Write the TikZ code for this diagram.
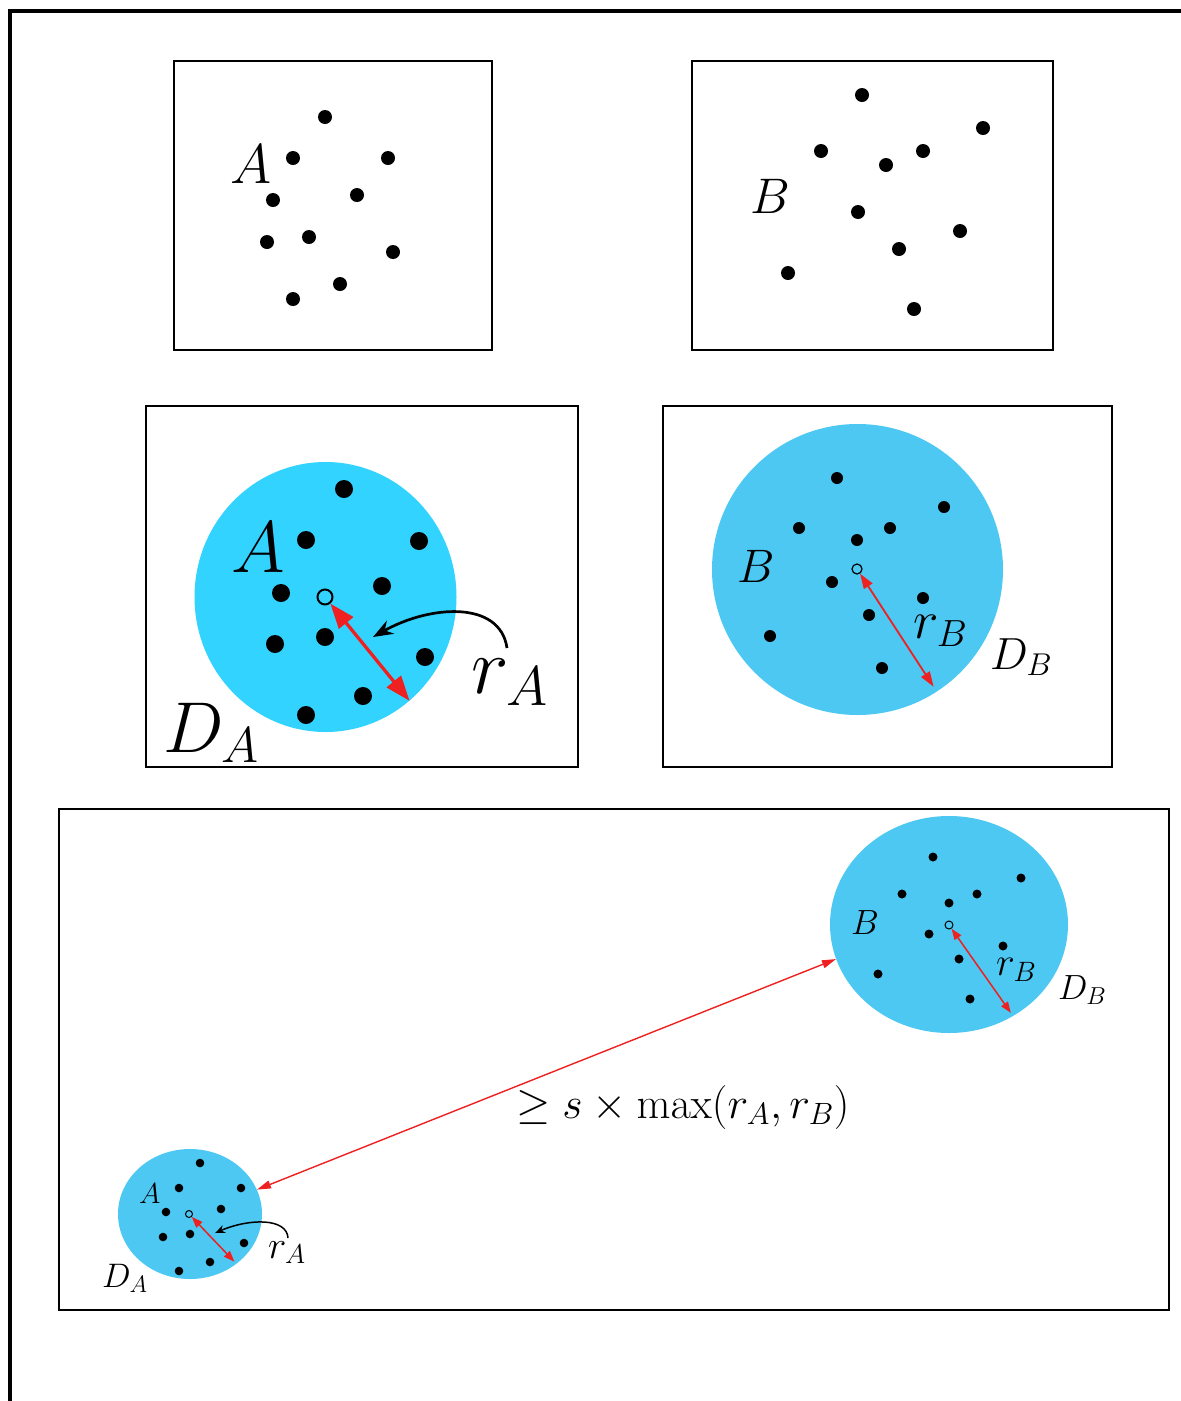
\RequirePackage{fix-cm}
\documentclass[tikz,border=0pt]{standalone}
\usepackage{amsmath}
\usepackage{tikz}
\usetikzlibrary{shapes.geometric, arrows.meta}
\definecolor{diskCyan}{HTML}{33D3FF}
\definecolor{diskSky}{HTML}{4DC8F2}
\definecolor{radRed}{HTML}{EE2020}
\newcommand{\fsz}[1]{\fontsize{#1}{#1}\selectfont}
\tikzset{
    panel_box/.style={
        rectangle, draw=black, line width=1.6pt, inner sep=0pt
    },
    disk/.style={
        ellipse, draw=none, inner sep=0pt
    },
    center_mark/.style={
        circle, draw=black, fill=none, inner sep=0pt
    },
    rad_arrow_big/.style={
        {Triangle[length=25pt,width=18pt]}-{Triangle[length=25pt,width=18pt]},
        draw=radRed, line width=3.3pt
    },
    rad_arrow_mid/.style={
        {Triangle[length=15pt,width=10pt]}-{Triangle[length=15pt,width=10pt]},
        draw=radRed, line width=1.8pt
    },
    rad_arrow_small/.style={
        {Triangle[length=11pt,width=8pt]}-{Triangle[length=11pt,width=8pt]},
        draw=radRed, line width=1.5pt
    },
    gap_arrow/.style={
        {Triangle[length=14pt,width=8pt]}-{Triangle[length=14pt,width=8pt]},
        draw=radRed, line width=1.4pt
    },
    hint_arrow/.style={
        draw=black, line width=#1
    },
    math_lbl/.style={
        anchor=base west, inner sep=0pt, outer sep=0pt
    }
}

\begin{document}
\begin{tikzpicture}[x=1pt, y=-1pt]
    \useasboundingbox (0,0) rectangle (1181,1401);

    % Outer frame (top and left edges)
    \draw[line width=4pt] (9.5,1401) -- (9.5,11) -- (1181,11);

    % Panel 1: point set A
    \node[panel_box, minimum width=318, minimum height=289] (panel_a) at (333,205.5) {};
    \foreach \px/\py in {325/117, 293/158, 388/158, 357/195, 273/200, 267/242, 309/237, 393/252, 340/284, 293/299}
        \fill (\px,\py) circle[radius=7];
    \node[math_lbl, font=\fsz{56}] (lbl_a) at (230,183) {$A$};

    % Panel 2: point set B
    \node[panel_box, minimum width=361, minimum height=289] (panel_b) at (872.5,205.5) {};
    \foreach \px/\py in {862/95, 983/128, 821/151, 923/151, 886/165, 858/212, 960/231, 899/249, 788/273, 914/309}
        \fill (\px,\py) circle[radius=7];
    \node[math_lbl, font=\fsz{50}] (lbl_b) at (750,213) {$B$};

    % Panel 3: enclosing disk D_A
    \node[panel_box, minimum width=432, minimum height=361] (panel_da) at (362,586.5) {};
    \node[disk, fill=diskCyan, minimum width=262, minimum height=270] (disk_a) at (325.5,597) {};
    \foreach \px/\py in {344/489, 306/540, 419/541, 382/586, 281/593, 275/644, 325/637, 425/657, 363/696, 306/715}
        \fill (\px,\py) circle[radius=9];
    \node[center_mark, minimum size=15, line width=2pt] (ctr_a) at (325,597) {};
    \draw[rad_arrow_big] (ctr_a) -- (disk_a.-51);
    \node[math_lbl, font=\fsz{73}] (lbl_da_a) at (231,572) {$A$};
    \node[math_lbl, font=\fsz{80}] (lbl_ra) at (471,693) {$r_A$};
    \node[math_lbl, font=\fsz{72}] (lbl_da) at (163,752) {$D_A$};
    \coordinate (hint_a_start) at (507,648);
    \coordinate (hint_a_end) at (373,637);
    \draw[hint_arrow=2.7pt, -{Stealth[length=20pt,width=15pt]}] (hint_a_start) .. controls (500,600) and (430,605) .. (hint_a_end);

    % Panel 4: enclosing disk D_B
    \node[panel_box, minimum width=449, minimum height=361] (panel_db) at (887.5,586.5) {};
    \node[disk, fill=diskSky, minimum width=291, minimum height=291] (disk_b) at (857.5,569.5) {};
    \foreach \px/\py in {837/478, 944/507, 799/528, 890/528, 857/540, 832/582, 923/598, 869/615, 770/636, 882/668}
        \fill (\px,\py) circle[radius=6];
    \node[center_mark, minimum size=10, line width=1.2pt] (ctr_b) at (857,569) {};
    \draw[rad_arrow_mid, shorten >=6pt] (ctr_b) -- (disk_b.-57);
    \node[math_lbl, font=\fsz{47}] (lbl_db_b) at (737,582) {$B$};
    \node[math_lbl, font=\fsz{54}] (lbl_rb) at (913,638) {$r_B$};
    \node[math_lbl, font=\fsz{45}] (lbl_db) at (990,669) {$D_B$};

    % Panel 5: well-separated pair
    \node[panel_box, minimum width=1110, minimum height=501] (panel_sep) at (614,1059.5) {};

    % large disk around B
    \node[disk, fill=diskSky, minimum width=238, minimum height=217] (disk_lb) at (949,924.5) {};
    \foreach \px/\py in {933/857, 1021/878, 902/894, 977/894, 949/903, 929/934, 1003/946, 959/959, 878/974, 970/999}
        \fill (\px,\py) circle[radius=4.5];
    \node[center_mark, minimum size=8, line width=1pt] (ctr_lb) at (949,925) {};
    \draw[rad_arrow_small, shorten >=4pt] (ctr_lb) -- (disk_lb.-55);
    \node[math_lbl, font=\fsz{35}] (lbl_lb_b) at (851,934) {$B$};
    \node[math_lbl, font=\fsz{40}] (lbl_lrb) at (996,975) {$r_B$};
    \node[math_lbl, font=\fsz{35}] (lbl_ldb) at (1058,999) {$D_B$};

    % small disk around A
    \node[disk, fill=diskSky, minimum width=144, minimum height=130] (disk_sa) at (190,1214) {};
    \foreach \px/\py in {200/1163, 179/1188, 241/1188, 166/1212, 221/1209, 163/1237, 190/1234, 244/1243, 210/1262, 179/1271}
        \fill (\px,\py) circle[radius=4.3];
    \node[center_mark, minimum size=7, line width=1pt] (ctr_sa) at (189,1214) {};
    \draw[rad_arrow_small, shorten >=3pt] (ctr_sa) -- (disk_sa.-47.5);
    \node[math_lbl, font=\fsz{29}] (lbl_sa_a) at (139,1203) {$A$};
    \node[math_lbl, font=\fsz{39}] (lbl_sra) at (268,1258) {$r_A$};
    \node[math_lbl, font=\fsz{34}] (lbl_sda) at (102,1287) {$D_A$};
    \coordinate (hint_sa_start) at (288,1238);
    \coordinate (hint_sa_end) at (215,1233);
    \draw[hint_arrow=1.5pt, -{Stealth[length=10pt,width=8pt]}] (hint_sa_start) .. controls (287,1218) and (250,1218) .. (hint_sa_end);

    % separation between the two disks
    \draw[gap_arrow] (disk_sa.20) -- (disk_lb.197);
    \node[math_lbl, font=\fsz{44}] (lbl_sep) at (516,1118) {$\geq s\times\max(r_A,r_B)$};

\end{tikzpicture}
\end{document}
